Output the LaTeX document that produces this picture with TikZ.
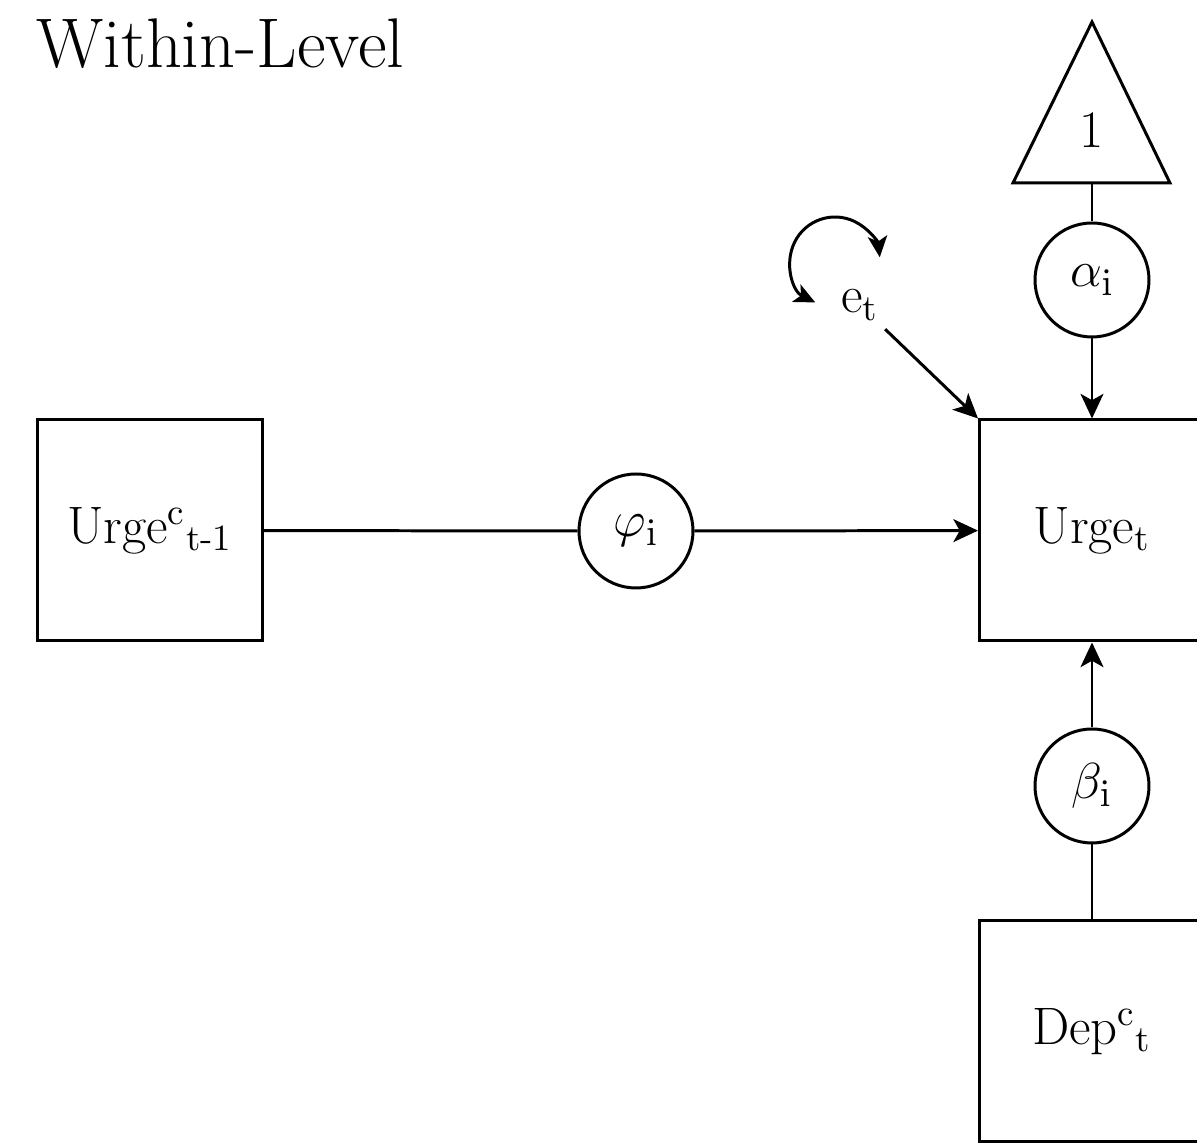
\documentclass[tikz,border=0pt]{standalone}
\usepackage{amsmath, amssymb}
\usepackage{tikz}
\usetikzlibrary{arrows.meta, positioning}

\begin{document}
\begin{tikzpicture}[
    line width=0.85pt,
    box/.style={draw, rectangle, minimum width=2.25cm, minimum height=2.21cm, inner sep=0pt, font=\fontsize{15}{18}\selectfont},
    coef/.style={draw, circle, minimum size=1.14cm, inner sep=0pt, font=\fontsize{15}{18}\selectfont},
    path/.style={-{Stealth[length=7pt, width=6.5pt, inset=1.8pt]}},
    varr/.style={{Stealth[length=6pt, width=5.5pt, inset=1.5pt]}-{Stealth[length=6pt, width=5.5pt, inset=1.5pt]}}
]
    \useasboundingbox (0,0) rectangle (11.97,-11.47);
    \clip (0,0) rectangle (11.97,-11.47);

    % Title
    \node[anchor=base west, inner sep=0pt, font=\fontsize{20}{24}\selectfont] (title) at (0.35,-0.68) {Within-Level};

    % Intercept triangle
    \draw (10.13,-1.83) -- (10.92,-0.22) -- (11.70,-1.83) -- cycle;
    \node[font=\fontsize{15}{18}\selectfont] (one) at (10.92,-1.30) {1};
    \coordinate (tribase) at (10.92,-1.83);

    % Observed variables
    \node[box] (urget) at (10.92,-5.305) {Urge\textsubscript{t}};
    \node[box] (urgelag) at (1.50,-5.305) {Urge\textsuperscript{c}\textsubscript{t-1}};
    \node[box] (dep) at (10.92,-10.315) {Dep\textsuperscript{c}\textsubscript{t}};

    % Random coefficients
    \node[coef] (alpha) at (10.92,-2.80) {$\alpha_{\mathrm{i}}$};
    \node[coef] (phi) at (6.36,-5.31) {$\varphi_{\mathrm{i}}$};
    \node[coef] (beta) at (10.92,-7.86) {$\beta_{\mathrm{i}}$};

    % Residual
    \node[font=\fontsize{15}{18}\selectfont, inner sep=2pt] (e) at (8.60,-3.05) {e\textsubscript{t}};
    \coordinate (vc) at ([shift={(-0.25,0.43)}]e.center);

    % Paths
    \draw (tribase) -- (alpha);
    \draw[path] (alpha) -- (urget);
    \draw (urgelag) -- (phi);
    \draw[path] (phi) -- (urget);
    \draw (dep) -- (beta);
    \draw[path] (beta) -- (urget);
    \draw[path] (e) -- (urget.north west);
    \draw[varr] ([shift={(244:0.45)}]vc) arc[start angle=244, end angle=6, radius=0.45];
\end{tikzpicture}
\end{document}
